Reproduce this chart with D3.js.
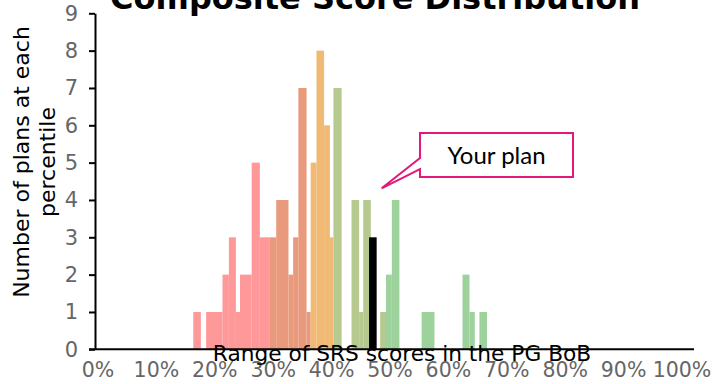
<!DOCTYPE html>
<html>
<head>
<meta charset="utf-8">
<script src="https://cdn.jsdelivr.net/npm/d3@7"></script>
<style>
  html, body { margin: 0; padding: 0; background: #fff; }
  svg { display: block; }
</style>
</head>
<body>
<svg id="chart" width="715" height="384"></svg>
<script>
// Histogram bins: percentile range [start, end) and number of plans in it
const binStart = [16.4, 18.6, 21.4, 22.5, 23.7, 24.4, 26.4, 27.8, 29.4, 30.6, 32.7, 33.5, 34.4, 35.8, 36.5, 37.5, 38.8, 39.8, 40.4, 43.5, 44.8, 45.5, 48.4, 49.4, 50.4, 55.5, 62.5, 63.7, 65.4];
const binEnd   = [17.7, 21.4, 22.5, 23.7, 24.4, 26.4, 27.8, 29.4, 30.6, 32.7, 33.5, 34.4, 35.8, 36.5, 37.5, 38.8, 39.8, 40.4, 41.8, 44.8, 45.5, 46.8, 49.4, 50.4, 51.7, 57.7, 63.7, 64.6, 66.7];
const counts   = [1, 1, 2, 3, 1, 2, 5, 3, 3, 4, 2, 3, 7, 1, 5, 8, 6, 3, 7, 4, 1, 4, 1, 2, 4, 1, 2, 1, 1];
const bands    = ["red", "red", "red", "red", "red", "red", "red", "red",
                  "salmon", "salmon", "salmon", "salmon", "salmon", "salmon",
                  "orange", "orange", "orange", "orange",
                  "olive", "olive", "olive", "olive", "olive",
                  "green", "green", "green", "green", "green", "green"];

// The highlighted plan
const planStart = 46.5;
const planEnd = 47.8;
const planCount = 3;
const planLabel = "Your plan";

// Axis ticks and titles
const xTicks = [0, 10, 20, 30, 40, 50, 60, 70, 80, 90, 100];
const yTicks = [0, 1, 2, 3, 4, 5, 6, 7, 8, 9];
const titleText = "Composite Score Distribution";
const xTitle = "Range of SRS scores in the PG BoB";
const yTitleLines = ["Number of plans at each", "percentile"];

const bandColor = {
  red: "#FF9999",
  salmon: "#E99A7D",
  orange: "#F0BA74",
  olive: "#B6C98F",
  green: "#9DD29D"
};

const W = 715, H = 384;
const svg = d3.select("#chart");

const x = d3.scaleLinear().domain([0, 100]).range([97.5, 681.5]);
const y = d3.scaleLinear().domain([0, 9]).range([349.3, 13.3]);
const axisX0 = 95, axisX1 = 694;

const bins = binStart.map((s, i) => ({ s, e: binEnd[i], n: counts[i], band: bands[i] }));

// Bars
svg.append("g")
  .selectAll("rect")
  .data(bins)
  .join("rect")
  .attr("x", d => x(d.s))
  .attr("width", d => x(d.e) - x(d.s))
  .attr("y", d => y(d.n))
  .attr("height", d => y(0) - y(d.n))
  .attr("fill", d => bandColor[d.band]);

svg.append("rect")
  .attr("x", x(planStart))
  .attr("width", x(planEnd) - x(planStart))
  .attr("y", y(planCount))
  .attr("height", y(0) - y(planCount))
  .attr("fill", "#000");

// Title (runs off the top edge)
svg.append("text")
  .attr("x", 375)
  .attr("y", 9)
  .attr("text-anchor", "middle")
  .style("font-family", "'DejaVu Sans', sans-serif")
  .style("font-weight", "bold")
  .style("font-size", "32px")
  .attr("fill", "#000")
  .text(titleText);

// Y axis
const yAxis = svg.append("g")
  .attr("transform", `translate(${axisX0},0)`)
  .call(d3.axisLeft(y).tickValues(yTicks).tickSize(6).tickSizeOuter(0).tickPadding(11));
yAxis.select(".domain").attr("stroke", "#000").attr("stroke-width", 2);
yAxis.selectAll(".tick line").attr("stroke", "#000").attr("stroke-width", 2);
yAxis.selectAll(".tick text")
  .attr("fill", "#666")
  .style("font-family", "'DejaVu Sans', sans-serif")
  .style("font-size", "21px");

// X axis labels
const xAxis = svg.append("g")
  .attr("transform", `translate(0,${y(0)})`)
  .call(d3.axisBottom(x).tickValues(xTicks).tickSize(0).tickPadding(13).tickFormat(d => d + "%"));
xAxis.select(".domain").remove();
xAxis.selectAll(".tick text")
  .attr("fill", "#666")
  .style("font-family", "'DejaVu Sans', sans-serif")
  .style("font-size", "20.5px")
  .each(function () {
    // keep the last label inside the chart
    const b = this.getBBox();
    const parentX = d3.select(this.parentNode).attr("transform").match(/translate\(([^,]+)/)[1];
    const right = +parentX + b.x + b.width;
    if (right > W - 3) d3.select(this).attr("x", (W - 3) - right);
  });

// X axis title
svg.append("text")
  .attr("x", 402)
  .attr("y", 361)
  .attr("text-anchor", "middle")
  .style("font-family", "'DejaVu Sans', sans-serif")
  .style("font-size", "21.7px")
  .attr("fill", "#000")
  .text(xTitle);

// X axis line
svg.append("line")
  .attr("x1", axisX0 - 6).attr("x2", axisX1)
  .attr("y1", y(0)).attr("y2", y(0))
  .attr("stroke", "#000").attr("stroke-width", 2);

// Y axis title (two lines, rotated)
const yTitle = svg.append("text")
  .attr("transform", "translate(29,162) rotate(-90)")
  .attr("text-anchor", "middle")
  .style("font-family", "'DejaVu Sans', sans-serif")
  .style("font-size", "22px")
  .attr("fill", "#000");
yTitle.selectAll("tspan")
  .data(yTitleLines)
  .join("tspan")
  .attr("x", 0)
  .attr("dy", (d, i) => i === 0 ? 0 : 26)
  .text(d => d);

// Callout pointing at the highlighted plan
const bx0 = 420, bx1 = 573, by0 = 133, by1 = 177;
const tipX = x(planEnd) + 5, tipY = y(planCount) - 49;
const calloutPath = [
  [bx0, by0], [bx1, by0], [bx1, by1], [bx0, by1],
  [bx0, 169], [tipX, tipY], [bx0, 158]
];
svg.append("path")
  .attr("d", d3.line()(calloutPath) + "Z")
  .attr("fill", "#fff")
  .attr("stroke", "#E2197B")
  .attr("stroke-width", 2)
  .attr("stroke-linejoin", "miter");

svg.append("text")
  .attr("x", (bx0 + bx1) / 2)
  .attr("y", 164)
  .attr("text-anchor", "middle")
  .style("font-family", "Lato, 'Open Sans', sans-serif")
  .style("font-size", "24px")
  .attr("fill", "#000")
  .text(planLabel);
</script>
</body>
</html>
